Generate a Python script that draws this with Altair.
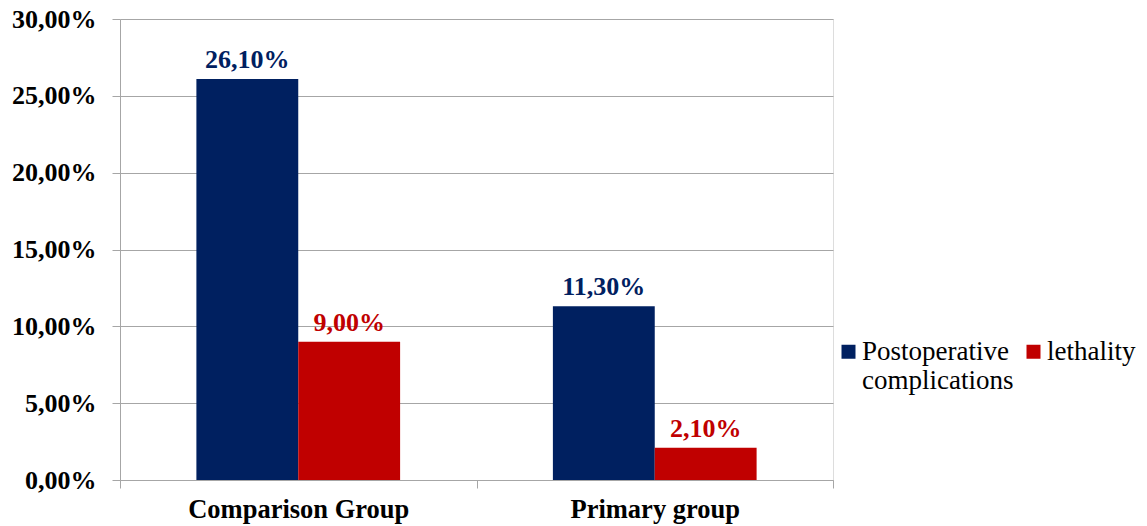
import altair as alt
import pandas as pd

groups = ["Comparison Group", "Comparison Group", "Primary group", "Primary group"]
series = ["Postoperative complications", "lethality", "Postoperative complications", "lethality"]
values = [0.261, 0.090, 0.113, 0.021]

series_order = ["Postoperative complications", "lethality"]
group_order = ["Comparison Group", "Primary group"]
colors = ["#002060", "#C00000"]

df = pd.DataFrame({"group": groups, "series": series, "value": values})

FONT = "Liberation Serif"
GRID = "#a6a6a6"

x = alt.X("group:N", sort=group_order, title=None,
          scale=alt.Scale(paddingInner=0, paddingOuter=0),
          axis=alt.Axis(tickBand="extent", labelFontSize=26.5, labelFontWeight="bold",
                        labelColor="#000000", labelFont=FONT, labelPadding=8,
                        labelLimit=400,
                        tickSize=8, tickColor=GRID, domainColor=GRID, labelAngle=0,
                        grid=False))
xoff = alt.XOffset("series:N", sort=series_order,
                   scale=alt.Scale(paddingInner=0, paddingOuter=0.75))
y = alt.Y("value:Q", title=None,
          scale=alt.Scale(domain=[0, 0.3], nice=False),
          axis=alt.Axis(values=[0, 0.05, 0.1, 0.15, 0.2, 0.25, 0.3],
                        labelExpr="replace(format(datum.value, '.2%'), '.', ',')",
                        labelFontSize=26, labelFontWeight="bold", labelColor="#000000",
                        labelFont=FONT, labelPadding=16, tickSize=8, tickColor=GRID,
                        domainColor=GRID, gridColor=GRID, gridWidth=1.2))
color = alt.Color("series:N", sort=series_order, title=None,
                  scale=alt.Scale(domain=series_order, range=colors),
                  legend=alt.Legend(orient="none", legendX=715, legendY=319,
                                    direction="horizontal", columns=2,
                                    symbolType="square", symbolSize=196,
                                    symbolStrokeWidth=0, symbolOpacity=1,
                                    labelFont=FONT, labelFontSize=27,
                                    labelColor="#000000", labelOffset=0,
                                    columnPadding=6, labelLimit=300,
                                    labelBaseline="middle",
                                    labelExpr="datum.label == 'Postoperative complications' ? ['Postoperative', 'complications'] : [datum.label, ' ']"))

base = alt.Chart(df)
bars = base.mark_bar(opacity=1).encode(x=x, xOffset=xoff, y=y, color=color)
labels = base.transform_calculate(
    lbl="replace(format(datum.value, '.2%'), '.', ',')"
).mark_text(font=FONT, fontSize=26, fontWeight="bold", dy=-11, baseline="alphabetic").encode(
    x=x, xOffset=xoff, y=y, text="lbl:N",
    color=alt.Color("series:N", sort=series_order, scale=alt.Scale(domain=series_order, range=colors), legend=None))

chart = alt.layer(bars, labels).properties(
    width=713, height=461,
    autosize=alt.AutoSizeParams(type="none"),
    padding={"left": 112, "top": 11, "right": 306, "bottom": 46},
).configure_view(stroke=None).configure(background="white", font=FONT)

chart.save("out.html", embed_options={"renderer": "svg", "actions": False})
